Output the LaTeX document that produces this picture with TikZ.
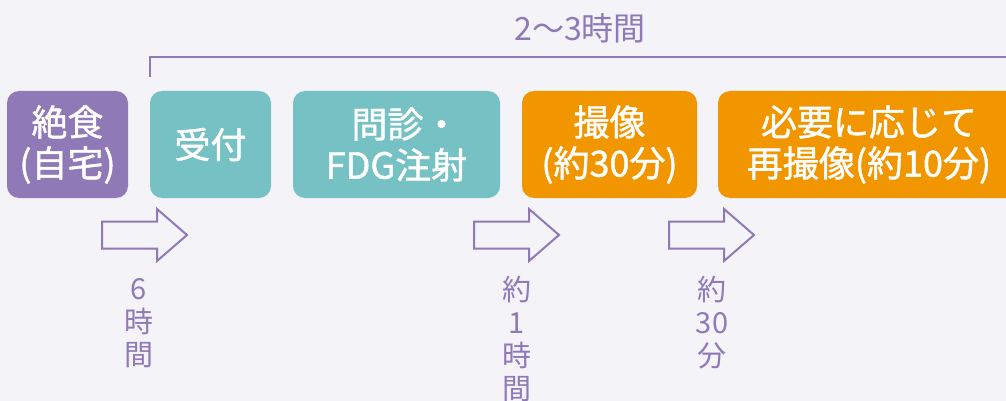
\documentclass[tikz,border=0pt]{standalone}
\usepackage{fontspec}
\setmainfont{Noto Sans CJK JP}
\newfontfamily\boxfont[FakeBold=1.2]{Noto Sans CJK JP}
\definecolor{bg}{HTML}{F4F3F8}
\definecolor{lav}{HTML}{8F79B7}
\definecolor{teal}{HTML}{76C1C4}
\definecolor{orng}{HTML}{F29600}
\tikzset{
  stepbox/.style={rounded corners=12pt, text=white, inner sep=0pt,
    minimum height=107pt, align=center,
    font=\boxfont\fontsize{36}{41}\selectfont},
  vlabel/.style={text=lav, align=center, inner sep=0pt,
    font=\fontsize{29}{33}\selectfont},
  blockarrow/.pic={\draw[lav, line width=2pt, line join=miter]
    (0,-13.5) -- (55,-13.5) -- (55,-26) -- (85,0) -- (55,26) -- (55,13.5) -- (0,13.5) -- cycle;}
}
\begin{document}
\begin{tikzpicture}[x=1pt,y=-1pt]
\useasboundingbox (0,0) rectangle (1006,401);
\fill[bg] (0,0) rectangle (1006,401);
% boxes
\node[stepbox, fill=lav, minimum width=121pt] (b1) at (67.5,144.5) {絶食\\(自宅)};
\node[stepbox, fill=teal, minimum width=121pt] (b2) at (210.5,144.5) {受付};
\node[stepbox, fill=teal, minimum width=207pt] (b3) at (396.5,144.5) {問診・\kern-0.5em\\FDG注射};
\node[stepbox, fill=orng, minimum width=175pt] (b4) at (609.5,144.5) {撮像\\(約30分)};
\node[stepbox, fill=orng, minimum width=302pt] (b5) at (869,144.5) {必要に応じて\\再撮像(約10分)};
% bracket
\coordinate (brs) at (150,77);
\coordinate (bre) at (1012,57);
\draw[lav, line width=2.5pt] (brs) |- (bre);
\node[text=lav, inner sep=0pt, font=\fontsize{32}{36}\selectfont] (dur) at (580,28) {2〜3時間};
% arrows
\pic at (102,235) {blockarrow};
\pic at (474,235) {blockarrow};
\pic at (669,235) {blockarrow};
% labels
\node[vlabel] (l1) at (139,323) {6\\時\\間};
\node[vlabel] (l2) at (517,339) {約\\1\\時\\間};
\node[vlabel] (l3) at (712,323) {約\\30\\分};
\end{tikzpicture}
\end{document}
